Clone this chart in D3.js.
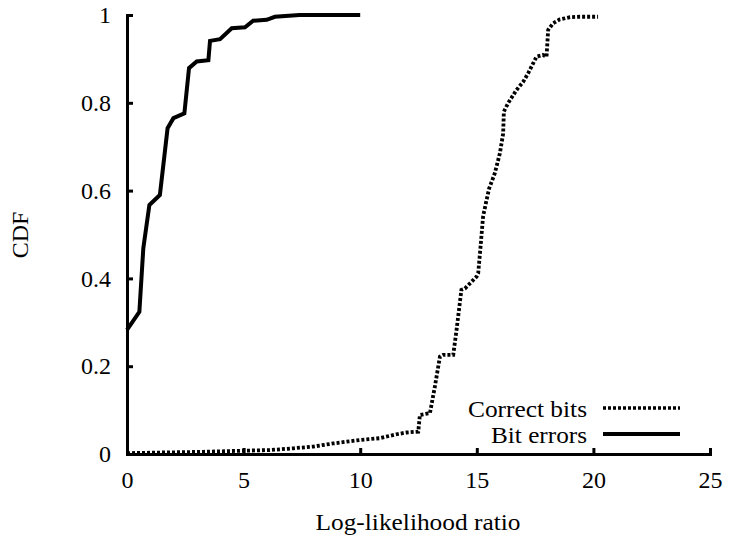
<!DOCTYPE html>
<html>
<head>
<meta charset="utf-8">
<script src="https://cdn.jsdelivr.net/npm/d3@7"></script>
<style>
  html, body { margin: 0; padding: 0; background: #fff; }
  svg { display: block; }
  text { font-family: "Liberation Serif", "Times New Roman", serif; fill: #000; }
</style>
</head>
<body>
<svg id="chart" width="729" height="536"></svg>
<script>
// ---- data ----
const xTicks = [0, 5, 10, 15, 20, 25];
const yTicks = [0, 0.2, 0.4, 0.6, 0.8, 1];
const yTickLabels = ["0", "0.2", "0.4", "0.6", "0.8", "1"];
const seriesNames = ["Correct bits", "Bit errors"];

// Bit errors CDF: LLR values and cumulative probabilities
const bitErrLLR = [0, 0.53, 0.7, 0.96, 1.41, 1.74, 1.99, 2.46, 2.66, 2.99, 3.49, 3.56, 3.99, 4.49, 5.06, 5.41, 5.99, 6.34, 7.4, 10.0];
const bitErrCDF = [0.283, 0.324, 0.469, 0.567, 0.59, 0.742, 0.765, 0.776, 0.879, 0.894, 0.897, 0.941, 0.945, 0.97, 0.972, 0.987, 0.989, 0.996, 1.0, 1.0];

// Correct bits CDF
const correctLLR = [0, 3.27, 5.0, 6.13, 7.13, 7.99, 8.84, 9.99, 10.84, 11.56, 11.99, 12.49, 12.56, 12.99, 13.2, 13.42, 13.56, 13.99, 14.13, 14.34, 14.49, 14.99, 15.06, 15.16, 15.27, 15.42, 15.53, 15.77, 15.99, 16.13, 16.16, 16.34, 16.7, 16.99, 17.2, 17.56, 17.84, 17.99, 18.06, 18.27, 18.56, 19.0, 19.4, 20.2];
const correctCDF = [0.002, 0.005, 0.0075, 0.009, 0.013, 0.017, 0.024, 0.032, 0.036, 0.045, 0.049, 0.051, 0.089, 0.093, 0.153, 0.222, 0.226, 0.226, 0.282, 0.374, 0.377, 0.404, 0.412, 0.472, 0.541, 0.579, 0.605, 0.639, 0.685, 0.73, 0.78, 0.799, 0.829, 0.848, 0.867, 0.905, 0.909, 0.905, 0.966, 0.981, 0.99, 0.995, 0.996, 0.996];

// ---- layout ----
const svg = d3.select("#chart");
const x = d3.scaleLinear().domain([0, 25]).range([127, 710]);
const y = d3.scaleLinear().domain([0, 1]).range([454, 15]);

const line = d3.line().x(d => x(d[0])).y(d => y(d[1]));

const correctPts = correctLLR.map((v, i) => [v, correctCDF[i]]);
const bitErrPts = bitErrLLR.map((v, i) => [v, bitErrCDF[i]]);

// curves
svg.append("path")
  .datum(correctPts)
  .attr("d", line)
  .attr("fill", "none")
  .attr("stroke", "#000")
  .attr("stroke-width", 3.8)
  .attr("stroke-dasharray", "3,2");

svg.append("path")
  .datum(bitErrPts)
  .attr("d", line)
  .attr("fill", "none")
  .attr("stroke", "#000")
  .attr("stroke-width", 4)
  .attr("stroke-linejoin", "miter");

// axes
const xAxis = d3.axisBottom(x).tickValues(xTicks).tickFormat(d3.format("d"))
  .tickSizeInner(-6).tickSizeOuter(0).tickPadding(17);
const yAxis = d3.axisLeft(y).tickValues(yTicks).tickFormat((d, i) => yTickLabels[i])
  .tickSizeInner(-6).tickSizeOuter(0).tickPadding(16);

const gx = svg.append("g").attr("transform", `translate(0,${y(0)})`).call(xAxis);
const gy = svg.append("g").attr("transform", `translate(${x(0)},0)`).call(yAxis);

[gx, gy].forEach(g => {
  g.select(".domain").attr("stroke", "#000").attr("stroke-width", 3).attr("stroke-linecap", "square");
  g.selectAll(".tick line").attr("stroke", "#000").attr("stroke-width", 3);
  g.selectAll(".tick text")
    .style("font-family", '"Liberation Serif", "Times New Roman", serif')
    .style("font-size", "24px")
    .attr("fill", "#000");
});

// axis titles
svg.append("text")
  .attr("x", 418).attr("y", 530)
  .attr("text-anchor", "middle")
  .style("font-size", "24px")
  .attr("textLength", 205)
  .attr("lengthAdjust", "spacingAndGlyphs")
  .text("Log-likelihood ratio");

svg.append("text")
  .attr("transform", "translate(28,235) rotate(-90)")
  .attr("text-anchor", "middle")
  .style("font-size", "24px")
  .text("CDF");

// legend
const legend = svg.append("g");
const legendRows = [
  { name: seriesNames[0], ty: 416.5, ly: 408, dash: "3,2", w: 3.5, len: 119 },
  { name: seriesNames[1], ty: 443, ly: 434, dash: null, w: 4, len: 96 }
];
legendRows.forEach(r => {
  legend.append("text")
    .attr("x", 587).attr("y", r.ty)
    .attr("text-anchor", "end")
    .style("font-size", "23px")
    .attr("textLength", r.len)
    .attr("lengthAdjust", "spacingAndGlyphs")
    .text(r.name);
  legend.append("line")
    .attr("x1", 603).attr("x2", 680)
    .attr("y1", r.ly).attr("y2", r.ly)
    .attr("stroke", "#000")
    .attr("stroke-width", r.w)
    .attr("stroke-dasharray", r.dash);
});
</script>
</body>
</html>
